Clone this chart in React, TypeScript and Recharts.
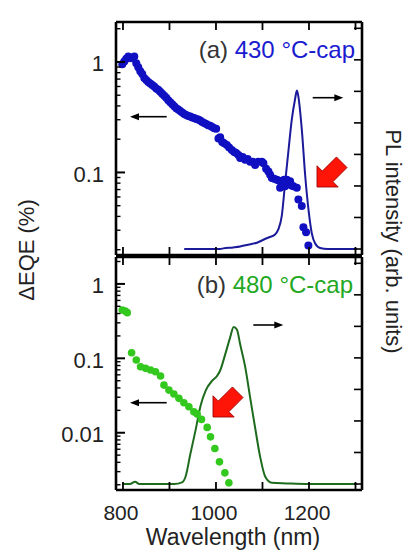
import React from 'react'
import { ComposedChart, Scatter, Line, XAxis, YAxis } from 'recharts'

const FONT = '"Liberation Sans", Arial, Helvetica, sans-serif'

// (a) 430 °C-cap : ΔEQE dots (left log axis) and PL curve (right axis)
const EQE_A_WL = [
  798.5, 802.8, 807.1, 811.4, 817.8, 824.3, 828.6, 832.9, 837.2, 841.5,
  845.8, 850.0, 854.3, 858.6, 862.9, 867.2, 871.5, 875.8, 880.1, 884.4,
  888.7, 893.0, 897.3, 901.6, 905.9, 910.2, 914.5, 918.8, 923.1, 927.4,
  931.7, 936.0, 940.3, 944.6, 948.9, 953.2, 957.4, 961.7, 966.0, 970.3,
  974.6, 978.9, 983.2, 987.5, 991.8, 996.1, 1000.4, 1005.3, 1009.0, 1013.3,
  1017.6, 1023.4, 1028.3, 1034.1, 1039.1, 1043.4, 1048.3, 1052.0, 1057.3, 1062.7,
  1068.1, 1073.4, 1078.8, 1084.2, 1090.6, 1098.6, 1102.0, 1107.8, 1112.8, 1116.4,
  1120.1, 1125.0, 1130.8, 1135.7, 1141.5, 1146.5, 1152.3, 1137.9, 1148.6, 1159.4,
  1162.6, 1166.5, 1173.8, 1177.2, 1184.5, 1188.0, 1193.7, 1198.7,
]
const EQE_A = [
  0.954, 1.01, 1.07, 1.12, 1.08, 1.12, 0.973, 0.897, 0.826, 0.777,
  0.715, 0.687, 0.659, 0.639, 0.619, 0.601, 0.576, 0.559, 0.537, 0.515,
  0.494, 0.474, 0.451, 0.432, 0.415, 0.398, 0.382, 0.371, 0.359, 0.348,
  0.338, 0.331, 0.324, 0.321, 0.314, 0.311, 0.305, 0.302, 0.296, 0.286,
  0.281, 0.275, 0.267, 0.264, 0.258, 0.251, 0.248, 0.203, 0.208, 0.189,
  0.184, 0.177, 0.168, 0.160, 0.153, 0.150, 0.144, 0.135, 0.138, 0.130,
  0.1325, 0.125, 0.1247, 0.117, 0.1247, 0.125, 0.121, 0.108, 0.102, 0.0954,
  0.0891, 0.0879, 0.0861, 0.0843, 0.0831, 0.0861, 0.0861, 0.0726, 0.075, 0.0831,
  0.076, 0.075, 0.0726, 0.057, 0.0497, 0.0319, 0.0288, 0.0218,
]
const PL_A_WL = [
  931.7, 970, 1009, 1016, 1037, 1052, 1066, 1088, 1109, 1116, 1127, 1134,
  1141.5, 1148.6, 1156, 1163, 1170, 1174, 1177, 1184.5, 1192, 1199, 1206,
  1213, 1224, 1240, 1270, 1303,
]
const PL_A = [
  0, 0, 0, 0.02, 0.05, 0.08, 0.13, 0.2, 0.34, 0.38, 0.46, 0.62,
  1.05, 2.09, 3.14, 4.1, 4.75, 5.03, 4.85, 3.8, 2.3, 1.24, 0.5,
  0.18, 0.03, 0, 0, 0,
]

// (b) 480 °C-cap
const EQE_B_WL = [
  798.5, 804.9, 809.2, 818.5, 828.6, 837.8, 848.5, 859.3, 870.0, 880.8,
  888.1, 898.8, 909.5, 920.3, 931.0, 941.8, 952.5, 959.6, 968.8, 981.1,
  988.2, 997.6, 1007.5, 1019.1, 1027.7,
]
const EQE_B = [
  0.447, 0.433, 0.411, 0.119, 0.0949, 0.077, 0.0733, 0.0696, 0.066, 0.0578,
  0.0437, 0.0374, 0.0331, 0.029, 0.0253, 0.0223, 0.0191, 0.0178, 0.0151, 0.0118,
  0.0088, 0.00615, 0.00406, 0.00289, 0.00212,
]
const PL_B_WL = [
  798, 815, 826, 835, 870, 910, 927, 934.5, 945, 956, 967, 978, 992, 1002,
  1009, 1020, 1030.5, 1038, 1045, 1052, 1063, 1073.4, 1084, 1095, 1106,
  1120, 1152, 1200, 1250, 1303,
]
const PL_B = [
  0, 0, 0.07, 0, 0, 0, 0.05, 0.23, 0.96, 1.7, 2.49, 2.97, 3.28, 3.42,
  3.6, 4.12, 4.65, 4.98, 4.9, 4.43, 3.7, 2.75, 1.8, 0.86, 0.23,
  0.04, 0.02, 0, 0, 0,
]

const X_TICKS = [800, 900, 1000, 1100, 1200, 1300]
const X_LABELS = [800, 1000, 1200]
const PL_TICKS = [0, 1, 2, 3, 4, 5, 6, 7]
const LOG_TICKS_A = [
  0.02, 0.03, 0.04, 0.05, 0.06, 0.07, 0.08, 0.09,
  0.1, 0.2, 0.3, 0.4, 0.5, 0.6, 0.7, 0.8, 0.9, 1, 2,
]
const LOG_TICKS_B = [
  0.002, 0.003, 0.004, 0.005, 0.006, 0.007, 0.008, 0.009,
  0.01, 0.02, 0.03, 0.04, 0.05, 0.06, 0.07, 0.08, 0.09,
  0.1, 0.2, 0.3, 0.4, 0.5, 0.6, 0.7, 0.8, 0.9, 1, 2,
]
const LOG_LABELS = [1, 0.1, 0.01]

const toRows = (ws: number[], vs: number[], key: string) => ws.map((w, i) => ({ w, [key]: vs[i] }))

const AXIS_LINE = { stroke: '#000', strokeWidth: 2.6 }

function LeftTick(props: any) {
  const { x, y, payload } = props
  const major = LOG_LABELS.includes(payload.value)
  return (
    <g>
      <line x1={x} x2={x + (major ? 9 : 4.5)} y1={y} y2={y} stroke="#000" strokeWidth={major ? 2 : 1.4} />
      {major && (
        <text x={x - 12} y={y + 2} textAnchor="end" dominantBaseline="central"
          fontSize={22} fontFamily={FONT} fill="#222">{payload.value}</text>
      )}
    </g>
  )
}

function RightTick(props: any) {
  const { x, y } = props
  return <line x1={x} x2={x - 8} y1={y} y2={y} stroke="#000" strokeWidth={1.6} />
}

function TopTick(props: any) {
  const { x, y } = props
  return <line x1={x} x2={x} y1={y} y2={y + 8} stroke="#000" strokeWidth={1.8} />
}

function BottomTick(props: any) {
  const { x, y, payload, labels } = props
  return (
    <g>
      <line x1={x} x2={x} y1={y} y2={y - 8} stroke="#000" strokeWidth={1.8} />
      {labels && X_LABELS.includes(payload.value) && (
        <text x={x - 2} y={y + 29.5} textAnchor="middle" fontSize={21} fontFamily={FONT} fill="#222">
          {payload.value}
        </text>
      )}
    </g>
  )
}

// axes are 1px wide/high, so the plot box sits 1px inside the margins
function Panel({ top, bottom, eqe, pl, logDomain, logTicks, dotColor, lineColor, labels, r }: any) {
  return (
    <div style={{ position: 'absolute', left: 0, top: 0 }}>
      <ComposedChart width={408} height={552} margin={{ top: top - 1, right: 45, bottom: 551 - bottom, left: 115 }}>
        <XAxis xAxisId="b" dataKey="w" type="number" orientation="bottom" domain={[785, 1314]} allowDataOverflow
          ticks={X_TICKS} interval={0} height={1} tickSize={0} tickMargin={0}
          axisLine={AXIS_LINE} tick={(p: any) => <BottomTick {...p} labels={labels} />} />
        <XAxis xAxisId="t" dataKey="w" type="number" orientation="top" domain={[785, 1314]} allowDataOverflow
          ticks={X_TICKS} interval={0} height={1} tickSize={0} tickMargin={0}
          axisLine={AXIS_LINE} tick={(p: any) => <TopTick {...p} />} />
        <YAxis yAxisId="l" dataKey="v" type="number" scale="log" orientation="left" domain={logDomain} allowDataOverflow
          ticks={logTicks} interval={0} width={1} tickSize={0} tickMargin={0}
          axisLine={AXIS_LINE} tick={(p: any) => <LeftTick {...p} />} />
        <YAxis yAxisId="r" dataKey="pl" type="number" orientation="right" domain={[-0.19, 7.2]} allowDataOverflow
          ticks={PL_TICKS} interval={0} width={1} tickSize={0} tickMargin={0}
          axisLine={AXIS_LINE} tick={(p: any) => <RightTick {...p} />} />
        <Line xAxisId="b" yAxisId="r" data={pl} dataKey="pl" type="monotone" stroke={lineColor}
          strokeWidth={2} dot={false} isAnimationActive={false} />
        <Scatter xAxisId="b" yAxisId="l" data={eqe} dataKey="v" fill={dotColor} isAnimationActive={false}
          shape={(p: any) => <circle cx={p.cx} cy={p.cy} r={r} fill={dotColor} />} />
      </ComposedChart>
    </div>
  )
}

function BlockArrow({ x, y }: { x: number; y: number }) {
  return (
    <polygon
      points="0,0 -15,-15 -15,-7.5 -35,-7.5 -35,7.5 -15,7.5 -15,15"
      transform={`translate(${x},${y}) rotate(135)`}
      fill="#ff1408" stroke="#9a0000" strokeWidth={0.8}
    />
  )
}

function ThinArrow({ x1, x2, y }: { x1: number; x2: number; y: number }) {
  const d = x2 > x1 ? 1 : -1
  return (
    <g>
      <line x1={x1} x2={x2 - d * 6} y1={y} y2={y} stroke="#000" strokeWidth={1.6} />
      <polygon points={`${x2},${y} ${x2 - d * 9},${y - 3.5} ${x2 - d * 9},${y + 3.5}`} fill="#000" />
    </g>
  )
}

export default function App() {
  return (
    <div style={{ position: 'absolute', left: 0, top: 0, width: 408, height: 552, background: '#fff' }}>
      <Panel top={22} bottom={255} eqe={toRows(EQE_A_WL, EQE_A, 'v')} pl={toRows(PL_A_WL, PL_A, 'pl')}
        logDomain={[0.0179, 2.3]} logTicks={LOG_TICKS_A} dotColor="#1010c2" lineColor="#1a1a9a" labels={false} r={4} />
      <Panel top={257} bottom={490} eqe={toRows(EQE_B_WL, EQE_B, 'v')} pl={toRows(PL_B_WL, PL_B, 'pl')}
        logDomain={[0.0017, 2.3]} logTicks={LOG_TICKS_B} dotColor="#33c81e" lineColor="#1e6b1e" labels={true} r={3.8} />
      <svg width={408} height={552} style={{ position: 'absolute', left: 0, top: 0, pointerEvents: 'none' }}
        fontFamily={FONT}>
        <text x={355} y={57.5} textAnchor="end" fontSize={24}>
          <tspan fill="#333">(a) </tspan>
          <tspan fill="#1a1ad0">430 °C-cap</tspan>
        </text>
        <text x={353} y={293} textAnchor="end" fontSize={24}>
          <tspan fill="#333">(b) </tspan>
          <tspan fill="#22a822">480 °C-cap</tspan>
        </text>
        <text transform="translate(34,250) rotate(-90)" textAnchor="middle" fontSize={22} fill="#222">ΔEQE (%)</text>
        <text transform="translate(386,241.5) rotate(90)" textAnchor="middle" fontSize={22} fill="#222">
          PL intensity (arb. units)
        </text>
        <text x={233} y={545} textAnchor="middle" fontSize={23} fill="#222">Wavelength (nm)</text>
        <ThinArrow x1={166.7} x2={130} y={116.7} />
        <ThinArrow x1={312.7} x2={343.3} y={97.7} />
        <ThinArrow x1={166.7} x2={130} y={402.7} />
        <ThinArrow x1={253.3} x2={283.3} y={325} />
        <BlockArrow x={317} y={187} />
        <BlockArrow x={213} y={417} />
      </svg>
    </div>
  )
}
